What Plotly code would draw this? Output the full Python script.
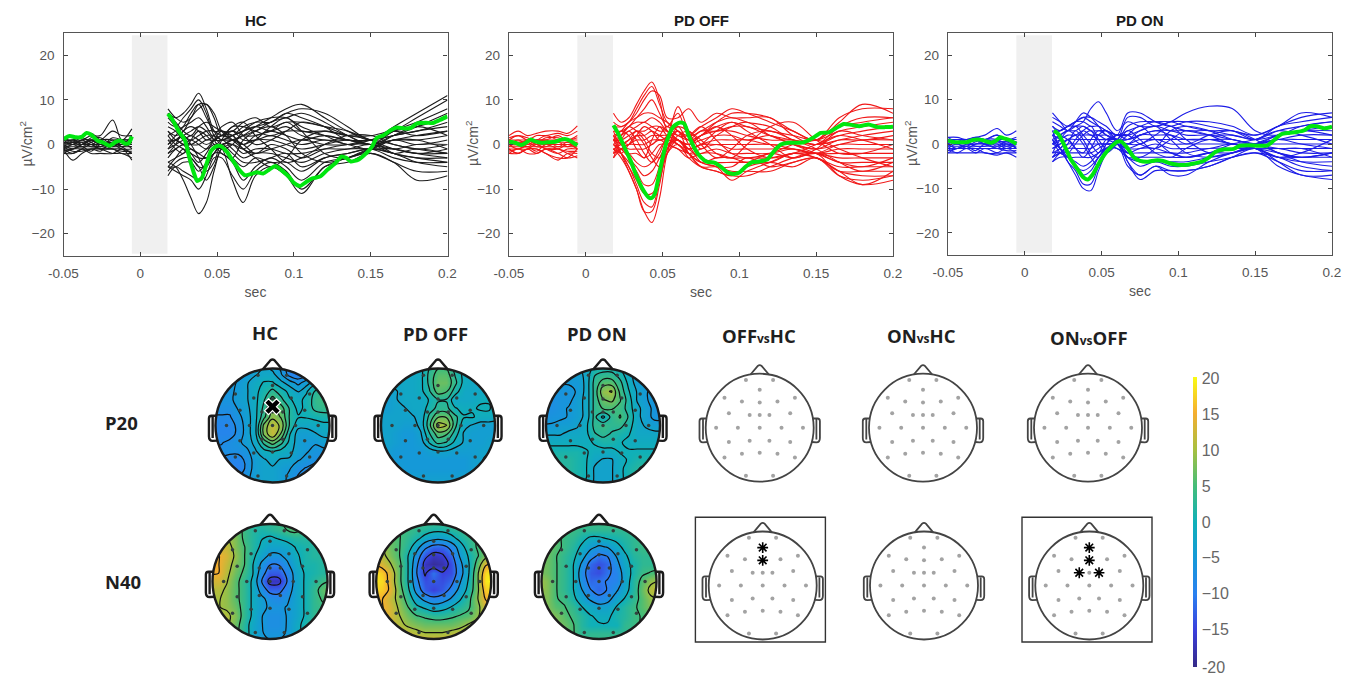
import plotly.graph_objects as go

W, H = 1363, 674

# ---------- top panels: data ----------
PRE_T = [-0.05, -0.044, -0.038, -0.032, -0.026, -0.018, -0.012, -0.0055]
POST_T = [.018, .023, .028, .033, .038, .043, .048, .053, .06, .067, .075, .085, .095, .105, .12, .135, .15, .165, .18, .2]

HC_PRE = [
    [1, 1, 1, 2, 2, 5.5, 1, 3.5], [0, 1, 0, 1, 1, 3, 2, 2], [1, 0, 1, 1, 0, 1, 1, 1], [0, 0, 1, 0, 1, 1, 0, 2],
    [0, -1, 0, 1, 0, 0, 1, 1], [-1, 0, 0, 0, 0, 0, 0, 0], [-1, -1, 0, 0, -1, 0, -1, -1], [-1, -2, -1, 0, -1, -1, -1, -2],
    [-2, -1, -1, -1, -1, -1, -2, -2], [-1, -3.5, -2, -1, -1, -2, -2, -3], [-2, -2, -1, -2, -2, -2, -1, -3.5], [1, 1, 2, 2.5, 1, 0, 0, 1],
    [.5, .5, .5, 1, .5, .5, .5, .5], [-.5, -.5, -.5, -.5, -.5, -.5, -.5, -.5], [.5, 0, -.5, .5, 1, -.5, .5, -1], [-.5, .5, .5, -.5, -.5, .5, -.5, .5],
    [0, .5, 1.5, .5, -.5, 1.5, 1, 0], [-1.5, -1, -.5, -1.5, 0, -1, -1.5, -1.5], [1.5, .5, 0, 1.5, 1.5, 0, 0, -.5], [-.5, -1.5, -1.5, -1, -1.5, .5, -.5, -2],
]
OFF_PRE = [
    [2, 3, 2, 2.5, 3, 3, 2.5, 4.2], [1, 2, 1, 2, 2, 2.5, 2, 3], [1, 1, 1, 1, 1, 2, 1, 2], [0, 1, 0, 1, 1, 1, 1, 1],
    [0, 0, 1, 0, 0, 0, 0, 0], [0, -1, 0, 0, -1, -1, 0, -1], [-1, -1, -1, 0, -1, -2, -1, -1], [-1, -2, -1, -1, -2, -3.5, -2, -2],
    [-2, -1, -2, -2, -1, -2, -3, -2.5], [-1, -2, -1, -1, -2, -3, -3, -1], [1, 0, 1, 1, 2, 1, 1, 0], [-2, -2, -1, -2, -1, -1, -2, -3],
    [.5, .5, .5, 1, .5, .5, .5, .5], [-.5, -.5, -.5, -.5, -.5, -.5, -.5, -.5], [.5, 0, -.5, .5, 1, -.5, .5, -1], [-.5, .5, .5, -.5, -.5, .5, -.5, .5],
    [1.5, 2, 1.5, .5, 1.5, 1.5, 1, 1.5], [-1.5, -1, -.5, -1.5, 0, -1, -1.5, -1.5],
]
ON_PRE = [
    [1.5, 1.5, 1, 1.5, 2, 3.5, 2, 3], [1, 1, 1, 1, 1, 2, 1, 1.5], [1, 0, 1, 1, 0, 1, 1, 1], [0, 1, 0, 0, 1, 1, 0, 0],
    [0, 0, 0, 0, 0, 0, 0, 0], [-1, 0, -1, 0, 0, -1, 0, -1], [-1, -1, -1, -1, -1, -1, -1, -1], [-2, -1, -1, -1, -2, -2, -1, -2],
    [-2, -2, -2, -2, -2, -2.5, -2, -3], [-1, -2, -1, -2, -1, -2, -2, -2], [1, 1, 1, 1, 1, 2, 1, 1], [0, -1, 0, 1, 0, 0, -1, 0],
    [.5, .5, .5, 1, .5, .5, .5, .5], [-.5, -.5, -.5, -.5, -.5, -.5, -.5, -.5], [.5, 0, -.5, .5, 1, -.5, .5, -1], [-.5, .5, .5, -.5, -.5, .5, -.5, .5],
    [-1.5, -1, -.5, -1.5, 0, -1, -1.5, -1.5], [1.5, .5, 1, 1.5, 1, .5, .5, .5],
]

HC_POST = [
    [7, 6, 7, 9, 11.5, 8, 3, 1, 2, 3, 4, 5, 7, 8, 7, 4, 1, 3, 6, 10],
    [8, 6, 5, 6, 9, 9, 7, 3, 1, 2, 4, 6, 8, 9, 6, 3, 1, 4, 7, 11],
    [5, 4, 6, 8, 10, 7, 2, 0, 1, 2, 3, 5, 6, 7, 5, 2, 0, 3, 5, 8],
    [3, 2, 3, 6, 8, 9, 6, 2, 2, 4, 5, 5, 7, 6, 4, 1, 1, 2, 4, 7],
    [7, 5, 3, 2, 4, 5, 4, 3, 3, 5, 6, 4, 5, 5, 4, 2, 0, 2, 3, 5],
    [2, 3, 4, 5, 6, 4, 1, -1, 0, 3, 5, 6, 6, 4, 2, 0, 1, 3, 4, 6],
    [6, 4, 2, 1, 2, 3, 3, 2, 4, 4, 3, 2, 3, 3, 2, 1, 0, 1, 2, 3],
    [1, 1, 2, 3, 4, 3, 1, 1, 2, 3, 4, 3, 4, 2, 1, 1, 0, 1, 1, 2],
    [4, 3, 1, 0, 0, 1, 1, 2, 3, 2, 2, 3, 2, 1, 2, 1, 1, 2, 3, 4],
    [-1, 0, 1, 2, 1, 0, 1, 2, 3, 1, 1, 2, 1, 0, 1, 0, -1, 1, 0, 1],
    [0, 1, 0, 0, 1, 2, 2, 1, 1, 0, 1, 1, 0, -1, 0, 1, 0, -1, 0, 0],
    [-2, -1, 0, -1, -2, -1, 1, 2, 2, -1, -2, -1, 0, 1, 0, 0, 1, 0, -1, 0],
    [-3, -1, 0, 1, 0, -1, 0, 0, 1, 0, -2, 0, -1, -3, -1, 0, 0, -1, -2, -1],
    [-4, -3, -2, -1, -2, -3, -2, 0, 0, -2, -1, -1, -2, -2, -1, -1, 0, -2, -1, -2],
    [-5, -3, -1, -2, -3, -3, -1, 1, -1, -3, -2, -2, -3, -4, -2, -1, -1, -1, -2, -2],
    [-6, -4, -3, -3, -5, -5, -2, 0, -2, -4, -4, -3, -2, -5, -3, -2, -1, -2, -3, -3],
    [-5, -5, -4, -4, -6, -4, -1, -1, -3, -5, -3, -4, -4, -6, -3, -2, -1, -3, -4, -4],
    [-7, -5, -6, -7, -8, -5, -2, -2, -4, -8, -5, -3, -5, -8, -4, -3, -1, -2, -4, -5],
    [-5, -6, -7, -8, -10, -7, -3, -3, -7, -10, -6, -4, -6, -10, -5, -3, -2, -4, -6, -6],
    [-4, -5, -8, -12, -15.5, -13, -6, -1, -8, -13, -7, -5, -7, -11, -5, -4, -2, -4, -8, -7],
    [0, 2, 4, 7, 9, 6, 3, 3, 2, 0, 2, 3, 5, 3, 3, 2, 2, 3, 2, 3],
    [-2, 0, 3, 4, 3, 1, 2, 4, 5, 2, 0, 1, 3, 5, 4, 3, 1, -1, -2, -3],
    [1, -1, -2, 1, 3, 2, 0, -2, -3, 1, 3, 4, 2, -2, -4, -3, -1, 1, 1, -1],
    [3, 1, 0, -2, -4, -2, 1, 3, 1, -1, -3, -5, -3, 1, 3, 2, 1, -2, -3, -4],
    [-1, 1, 2, 0, -3, -6, -4, 1, 4, 5, 2, -1, -4, -3, 0, 2, 2, 0, -1, -2],
    [2, 0, -1, -3, -5, -8, -5, -1, 0, -1, 1, 4, 6, 3, -2, -3, -1, 2, 4, 2],
]

OFF_POST = [
    [7, 5, 6, 9, 12, 14, 10, 3, 1, 0, 2, 5, 7, 7, 6, 3, 1, 5, 9, 7],
    [5, 4, 5, 8, 11, 13, 9, 5, 3, 2, 4, 6, 8, 7, 5, 3, 1, 6, 8, 8],
    [4, 4, 5, 7, 10, 12, 11, 6, 6, 8, 5, 7, 6, 6, 6, 2, 0, 4, 6, 6],
    [3, 3, 4, 6, 8, 10, 7, 4, 7, 2, 3, 5, 6, 5, 4, 1, 1, 4, 5, 6],
    [2, 3, 5, 6, 7, 7, 6, 5, 3, 1, 2, 4, 5, 4, 3, 2, 1, 3, 4, 5],
    [1, 2, 4, 5, 5, 6, 5, 3, 2, 1, 3, 3, 4, 4, 2, 1, 0, 2, 3, 4],
    [0, 2, 3, 4, 5, 4, 3, 3, 1, 0, 2, 3, 3, 2, 1, 1, 0, 1, 2, 3],
    [1, 1, 2, 3, 3, 4, 4, 2, 1, 0, 1, 2, 2, 1, 2, 0, -1, 1, 1, 2],
    [-1, 0, 1, 2, 2, 3, 2, 1, 1, -1, 0, 1, 1, 1, 0, 0, -1, 0, 1, 1],
    [-2, -1, 0, 1, 1, 2, 2, 2, 0, -1, 0, 0, 0, 0, 0, -1, -2, 0, 0, 0],
    [-3, -1, 0, 0, 0, 1, 1, 1, 0, -2, -1, 0, -1, -1, -1, -1, -2, -1, -1, -1],
    [1, 0, -1, -1, -1, 0, 1, 0, -1, -2, -2, -1, -2, -2, -2, -1, -2, -2, -2, -2],
    [2, 0, -2, -2, -3, -2, 0, 0, -1, -3, -2, -2, -3, -3, -3, -2, -2, -3, -3, -3],
    [-2, -1, -2, -4, -5, -4, -1, 1, 0, -2, -4, -3, -3, -4, -2, -3, -2, -4, -4, -4],
    [0, -1, -3, -5, -7, -6, -3, 0, 1, -1, -3, -4, -4, -4, -4, -2, -3, -5, -5, -5],
    [-1, -2, -4, -6, -9, -9, -5, -1, 1, -2, -4, -5, -5, -3, -5, -4, -3, -6, -6, -6],
    [1, -2, -5, -8, -11, -11, -8, -2, 0, -3, -5, -5, -6, -6, -6, -4, -3, -6, -7, -7],
    [0, -2, -5, -9, -13, -14, -8, -2, 1, -2, -5, -6, -7, -5, -4, -5, -3, -7, -8, -7],
    [2, -2, -6, -10, -15, -15, -9, -1, 3, -2, -5, -6, -7, -7, -5, -3, -2, -7, -9, -8],
    [-1, -3, -6, -10, -15, -17.5, -12, -2, 4, 0, -4, -5, -8, -6, -4, -2, -3, -6, -9, -6],
    [4, 1, 0, 2, 4, 3, 1, 2, 8.5, 3, -1, 2, 4, 5, 2, 0, -2, -4, -5, -3],
    [-2, 2, 4, 3, 1, -2, -3, 1, 3, 1, 2, 4, 2, -1, -3, -2, 0, 2, 1, -1],
    [3, 0, 1, 3, 2, 0, 2, 4, 2, 2, 4, 1, -2, -3, -2, 0, 1, -1, -3, -5],
    [-3, 1, 3, 1, -2, -4, -2, 2, 4, 3, 1, -2, -3, 0, 4, 5, 1, -2, -2, 0],
    [1, 3, 2, -1, -3, 1, 4, 3, 1, -1, 0, 3, 5, 3, 0, -3, -1, 3, 2, 1],
    [-1, -2, 0, 2, 0, -3, -5, -1, 2, 3, 0, -3, -1, 2, 3, 1, -1, -4, -6, -4],
]

ON_POST = [
    [7, 5, 3, 4, 5, 8, 9.5, 7, 3, 5, 4, 4, 5, 7, 8.5, 8, 3, 2, 4, 5],
    [6, 5, 4, 5, 6, 6, 5, 4, 2, 7, 7, 5, 4, 5, 5, 4, 2, 4, 7, 6],
    [5, 4, 3, 5, 7, 6, 4, 2, 1, 6, 6, 4, 5, 5, 4, 3, 2, 4, 6, 7],
    [4, 3, 4, 5, 6, 5, 4, 3, 1, 4, 5, 5, 5, 4, 3, 3, 1, 4, 5, 6],
    [3, 3, 4, 5, 5, 4, 4, 3, 2, 3, 4, 5, 4, 3, 3, 2, 1, 3, 4, 5],
    [2, 3, 4, 4, 4, 3, 3, 3, 2, 2, 3, 4, 3, 3, 2, 2, 1, 2, 3, 4],
    [1, 2, 3, 3, 4, 3, 2, 2, 1, 1, 2, 3, 3, 2, 2, 1, 0, 2, 3, 3],
    [0, 1, 2, 2, 3, 2, 2, 1, 1, 0, 2, 2, 2, 1, 1, 1, 0, 1, 2, 2],
    [-1, 0, 1, 2, 2, 2, 1, 1, 1, 0, 1, 1, 1, 1, 1, 0, 0, 1, 1, 1],
    [-2, -1, 1, 1, 1, 1, 1, 1, 0, -1, 0, 1, 0, 0, 0, 0, 0, 0, 0, 0],
    [-3, -1, 0, 0, 0, 0, 0, 0, 0, -1, -1, 0, -1, -1, -1, 0, -1, -1, -1, -1],
    [-4, -2, -1, -1, -1, -1, 0, 0, 0, -2, -1, -1, -2, -2, -1, -1, -1, -1, -2, -2],
    [-3, -2, -2, -2, -2, -2, -1, 0, -1, -2, -2, -2, -2, -3, -2, -1, -1, -2, -3, -2],
    [-2, -2, -3, -3, -3, -3, -2, -1, -1, -3, -3, -3, -3, -3, -2, -2, -1, -3, -3, -3],
    [-4, -3, -3, -4, -5, -4, -2, -1, 0, -3, -4, -4, -4, -4, -3, -2, -1, -3, -4, -4],
    [1, -2, -3, -5, -6, -5, -3, -1, 0, -3, -5, -4, -5, -5, -4, -3, -2, -3, -5, -6],
    [2, -1, -3, -5, -7, -6, -3, -1, 0, -5, -7, -5, -6, -6, -5, -3, -2, -4, -6, -6],
    [0, -1, -4, -6, -9, -9, -5, -2, 1, -4, -8, -6, -6, -6, -5, -3, -1, -4, -7, -7],
    [3, -1, -4, -7, -10, -10.5, -6, -2, 1, -4, -7, -5, -7, -7, -4, -2, -1, -5, -7, -8],
    [0, 2, 3, 2, 0, -3, -5, 0, 2, 1, 2, 3, 2, 0, 2, 3, 1, -2, -3, -2],
    [2, 1, -1, 1, 3, 4, 1, -1, 0, 2, 4, 1, -2, -3, -2, 0, 1, 3, 2, 0],
    [-2, 1, 3, 4, 2, 0, -2, 1, 1, -2, -3, -1, 3, 4, 3, 1, 0, -2, -4, -5],
    [-1, 0, 1, -1, -3, -1, 2, 3, 1, 0, 0, 2, 4, 1, -2, -1, 0, 1, 0, -1],
    [1, -1, -2, 0, 2, 3, 0, -2, 0, 3, 1, -2, -3, -1, 1, 0, -1, -3, -2, 1],
    [4, 2, 1, -1, -2, 1, 3, 2, 1, 1, 3, 4, 1, -2, -3, -2, 0, 2, 3, 2],
    [-3, -2, 0, 3, 1, -2, -3, 0, 2, 2, 0, -1, 1, 3, 2, 0, 0, -1, -1, -3],
]

HC_MEAN_T = [-.05, -.046, -.042, -.038, -.035, -.032, -.028, -.024, -.02, -.016, -.013, -.01, -.0075, -.0055, None,
             .018, .021, .025, .029, .032, .035, .037, .04, .043, .046, .049, .052, .056, .06, .064, .068, .072, .076, .08, .084, .088, .092, .097, .1, .104, .108, .112, .117, .122, .127, .131, .134, .137, .142, .147, .151, .154, .158, .163, .167, .172, .176, .18, .186, .19, .195, .2]
HC_MEAN = [1.2, 1.9, 1.6, 1.7, 2.6, 2.2, .9, .4, -.3, .6, .9, .2, .3, 1.8, None,
           6.9, 5.5, 3, 1, -3, -6.5, -8.2, -7.5, -4.5, -1.5, -.5, -.3, -1.5, -3.5, -5.5, -6.9, -6.6, -6.2, -6.5, -5.6, -4.8, -5.8, -7.3, -8.6, -9.3, -8.4, -7.6, -7.2, -5.6, -4.2, -2.7, -3, -3.8, -3.4, -2, -.4, 1.5, 2, 3.2, 3.8, 3.6, 3.7, 4.7, 4.9, 4.8, 5.5, 6.3]
OFF_MEAN_T = [-.05, -.046, -.042, -.039, -.036, -.033, -.029, -.025, -.02, -.016, -.013, -.01, -.0055, None,
              .018, .021, .025, .029, .033, .037, .041, .043, .045, .047, .05, .053, .057, .061, .064, .067, .071, .075, .079, .084, .088, .092, .096, .1, .104, .108, .113, .118, .123, .127, .132, .137, .142, .148, .153, .158, .163, .168, .173, .178, .184, .19, .195, .2]
OFF_MEAN = [.7, .4, -.1, .4, 1.1, .7, .4, .5, .6, 1.1, 1.2, .8, -.2, None,
            4.3, 2.5, -.5, -3.5, -7, -10, -11.9, -12, -11, -8, -3, 1, 4, 4.9, 4.7, 2, -1, -2.9, -3.9, -4.1, -5, -6.2, -6.6, -6.3, -5, -4, -3.8, -3.4, -1.3, 0, .4, .4, .5, 1.5, 2.6, 2.7, 3.7, 4.6, 4.4, 4.1, 4.5, 3.9, 3.9, 4]
ON_MEAN_T = [-.05, -.046, -.042, -.038, -.034, -.03, -.026, -.022, -.019, -.016, -.013, -.01, -.0055, None,
             .019, .022, .026, .03, .034, .038, .041, .044, .048, .052, .056, .06, .063, .067, .071, .075, .08, .085, .09, .095, .1, .105, .11, .115, .12, .124, .13, .136, .14, .146, .152, .158, .162, .167, .172, .177, .182, .186, .19, .195, .2]
ON_MEAN = [.8, .4, .4, .4, .9, 1, .7, .3, .7, 1.5, 1.2, .9, 0, None,
           3, 2.2, -.5, -3.5, -5.5, -7.5, -8, -7, -4.5, -2.3, -.7, .5, .5, -1, -3, -3.8, -4, -3.7, -3.8, -4.4, -4.7, -4.7, -4.4, -4, -3, -1.8, -1.2, -1.1, -.4, -.3, -.4, -.3, .8, 2.2, 2.5, 2.7, 3.1, 4, 4, 3.5, 3.9]

PANEL_TITLES = ["HC", "PD OFF", "PD ON"]
PANEL_COLORS = ["#1c1c1c", "#f01818", "#1c1ce6"]
X_TICKS = [-0.05, 0, 0.05, 0.1, 0.15, 0.2]
X_TICK_TEXT = ["-0.05", "0", "0.05", "0.1", "0.15", "0.2"]
Y_TICKS = [-20, -10, 0, 10, 20]

# ---------- scalp maps: data (rows y = 1.05 ... -1.05, columns x = -1.05 ... 1.05) ----------
GRID = [-1.05, -.9, -.75, -.6, -.45, -.3, -.15, 0, .15, .3, .45, .6, .75, .9, 1.05]

HC_P20 = [
    [-6, -6, -6, -6, -5, -4, -3, -4, -6, -9, -10, -8, -5, -4, -4],
    [-6, -6, -6, -6, -5, -3, -2, -2, -5, -9, -10, -8, -4, -3, -3],
    [-6, -6, -6, -5, -3, -1.5, 0, 0, -2, -4, -6, -4, -1, 0, 0],
    [-6, -6, -6, -4.5, -3, -1, 1, 3, 1, -1, -3, -.5, 2.5, 3.5, 3.5],
    [-6, -6, -6, -4, -3, -1, 2, 6, 3, 0, -1, .5, 3.5, 4.5, 4.5],
    [-7, -7, -7, -5, -3.5, -1, 3, 8, 6, 2, -1, .5, 3, 3.5, 3.5],
    [-8, -8, -8, -6, -4, -1, 4, 9, 7, 2, 0, 0, .5, 1, 1],
    [-9, -9, -9, -7, -4, -1, 8, 12, 9, 2, -2, -2, -1.5, -1, -1],
    [-9, -9, -9, -7, -4, -1, 8, 12, 7, 0, -4, -4, -3, -2, -2],
    [-8, -8, -7, -6, -4, -2, 3, 6, 3, -1, -4, -5, -5, -4, -4],
    [-7, -7, -7, -7, -6, -3, -1, 0, -1, -2, -4, -5, -6, -6, -6],
    [-7, -8, -9, -9, -7, -4, -3, -2, -3, -3, -5, -6, -7, -8, -8],
    [-7, -8, -9, -10, -7, -4, -3, -3, -4, -5, -7, -8, -9, -9, -9],
    [-7, -7, -8, -8, -6, -4, -3, -3, -4, -6, -8, -9, -9, -9, -9],
    [-7, -7, -7, -7, -6, -4, -3, -3, -4, -6, -8, -8, -8, -8, -8],
]
OFF_P20 = [
    [-2, -2, -2, -2, -2, -1, 2, 4, 4, 1, -1, -2, -2, -2, -2],
    [-2, -2, -2, -2, -2, -1, 3, 6, 6, 2, -1, -2, -2, -2, -2],
    [-3, -3, -2, -2, -2, -1, 3, 7, 7, 3, -1, -2, -2, -2, -3],
    [-3, -3, -3, -2, -2, -1, 2, 6, 5, 1, -2, -2, -2, -2, -3],
    [-4, -4, -3, -2, -2, -2, 0, 2, 2, -2, -2, -2, -.5, -.5, -2],
    [-4, -4, -3, -3, -2, -2, 1, 3, 3, 0, -1, -.5, 0, 0, -2],
    [-3, -3, -3, -3, -3, -2, 3, 7, 7, 3, 0, 0, -1, -1, -2],
    [-3, -3, -3, -4, -4, -2, 4, 11, 10, 3, -2, -3, -4, -4, -4],
    [-3, -3, -4, -5, -5, -3, 2, 6, 5, 1, -3, -4, -4, -4, -4],
    [-3, -3, -4, -5, -5, -4, 0, 3, 2, -1, -3, -4, -4, -3, -3],
    [-3, -4, -5, -5, -5, -5, -4, -3, -3, -4, -4, -4, -3, -3, -3],
    [-3, -4, -5, -5, -5, -5, -5, -5, -5, -5, -5, -4, -3, -2, -2],
    [-3, -3, -4, -5, -5, -5, -5, -5, -5, -5, -5, -4, -3, -2, -2],
    [-3, -3, -3, -3, -4, -4, -4, -4, -4, -4, -3, -3, -2, -2, -2],
    [-3, -3, -3, -3, -3, -3, -3, -3, -3, -3, -3, -3, -3, -3, -3],
]
ON_P20 = [
    [-3, -3, -3, -3, -3, -2, 0, 0, 0, -1, -3, -4, -4, -4, -4],
    [-4, -4, -4, -4, -4, -2, 2, 3, 3, 1, -2, -4, -5, -5, -5],
    [-5, -5, -5, -5, -5, -2, 3, 6, 6, 3, -1, -4, -5, -5, -5],
    [-6, -6, -6, -6, -5, -2, 3, 9, 10, 4, 0, -3, -5, -6, -6],
    [-7, -7, -6, -6, -4, -2, 3, 7, 8, 5, 1, -3, -5, -6, -7],
    [-7, -7, -6, -5, -4, -2, 3, 5, 5, 4, 1, -2, -4, -6, -7],
    [-7, -6, -6, -5, -4, -2, 3, -1, 3, 5, 2, -2, -4, -6, -6],
    [-5, -5, -4, -4, -3, -1, 3, 4, 3, 3, 1, -2, -3, -4, -4],
    [-3, -3, -3, -2, -2, -1, 2, 3, 2, 1, 0, -2, -2, -2, -2],
    [-1, -1, -1, -1, -1, -1, 0, 1, 1, 0, -1, -1, -1, -1, -1],
    [1, 1, 1, 1, 1, 0, -1, -1, -1, 0, 0, 0, 0, 0, 0],
    [2, 2, 2, 2, 1, 0, -2, -3, -3, -1, 0, 1, 1, 1, 1],
    [2, 2, 2, 2, 1, 0, -3, -3, -3, -1, 1, 2, 3, 3, 3],
    [2, 2, 2, 2, 1, 0, -3, -3, -3, -1, 1, 2, 3, 3, 3],
    [2, 2, 2, 2, 1, -1, -3, -3, -3, -1, 1, 1, 2, 2, 2],
]
HC_N40 = [
    [6, 8, 8, 6, 4, 2, 3, 3, 4, 6, 7, 6, 3, 3, 3],
    [9, 9, 9, 7, 4, 2, 1, 2, 3, 5, 6, 4, 3, 3, 3],
    [11, 11, 10, 8, 4, 2, 0, -1, 0, 1, 2, 2, 2, 2, 2],
    [13, 13, 12, 8, 5, 2, -1, -3, -3, -2, 0, 1, 2, 2, 2],
    [15, 15, 13, 9, 5, 1, -3, -6, -6, -4, -1, 1, 2, 2, 2],
    [16, 15, 12, 8, 5, 0, -6, -10, -10, -6, -2, 1, 1, 2, 2],
    [15, 15, 11, 7, 4, 0, -8, -13, -13, -9, -3, 0, 1, 2, 2],
    [13, 13, 10, 6, 3, -1, -10, -17, -17, -10, -3, 0, 2, 4, 5],
    [11, 11, 9, 6, 3, -1, -7, -12, -12, -8, -3, 0, 3, 6, 8],
    [10, 10, 9, 6, 3, -1, -4, -7, -8, -6, -3, 0, 3, 5, 7],
    [10, 10, 9, 7, 3, -1, -4, -6, -6, -5, -3, 0, 3, 4, 5],
    [10, 11, 11, 8, 3, -1, -5, -7, -7, -5, -3, 0, 3, 4, 4],
    [10, 11, 10, 7, 2, -2, -5, -7, -7, -5, -2, 1, 3, 3, 3],
    [9, 9, 8, 6, 2, -2, -5, -6, -6, -5, -2, 1, 2, 2, 2],
    [8, 8, 7, 5, 2, -2, -4, -5, -5, -4, -2, 1, 2, 2, 2],
]
OFF_N40 = [
    [6, 6, 6, 5, 5, 4, 4, 4, 4, 4, 5, 5, 6, 6, 6],
    [7, 7, 6, 5, 4, 3, 2, 1, 1, 2, 3, 4, 5, 6, 6],
    [9, 8, 7, 5, 3, 1, -2, -4, -4, -2, 1, 3, 5, 7, 8],
    [11, 10, 7, 5, 2, -3, -9, -12, -12, -9, -3, 2, 5, 7, 9],
    [13, 11, 8, 5, 0, -7, -14, -17, -16, -12, -5, 0, 4, 8, 10],
    [15, 13, 10, 6, 0, -9, -17, -19, -18, -14, -7, -1, 6, 14, 16],
    [19, 17, 13, 6, 0, -10, -16, -11, -15, -14, -8, -1, 8, 18, 20],
    [19, 18, 13, 6, 0, -9, -14, -13, -14, -12, -6, 0, 8, 19, 20],
    [18, 17, 14, 7, 1, -7, -13, -15, -13, -9, -4, 1, 8, 17, 19],
    [15, 15, 12, 8, 3, -3, -7, -9, -8, -5, -1, 3, 9, 15, 16],
    [15, 15, 13, 9, 5, 1, -1, -3, -2, 0, 2, 4, 8, 13, 15],
    [15, 15, 13, 10, 7, 5, 4, 3, 3, 4, 5, 6, 9, 12, 14],
    [15, 15, 13, 11, 9, 8, 7, 7, 7, 7, 8, 10, 11, 12, 13],
    [15, 15, 14, 13, 12, 11, 10, 10, 10, 11, 12, 13, 13, 13, 13],
    [15, 15, 15, 14, 14, 14, 14, 14, 14, 14, 14, 14, 14, 14, 14],
]
ON_N40 = [
    [5, 5, 5, 5, 5, 5, 4, 4, 5, 5, 5, 5, 5, 5, 5],
    [7, 7, 6, 5, 4, 3, 3, 3, 3, 3, 3, 4, 4, 5, 5],
    [7, 7, 6, 4, 3, 1, -1, -1, 0, 1, 2, 3, 4, 4, 4],
    [7, 7, 6, 4, 2, -1, -4, -6, -5, -2, 1, 3, 4, 4, 4],
    [8, 7, 5, 3, 1, -3, -8, -11, -10, -5, -1, 2, 3, 3, 3],
    [8, 7, 5, 3, 0, -6, -12, -14, -12, -7, -2, 1, 3, 3, 3],
    [8, 7, 5, 3, 0, -8, -13, -14, -11, -9, -3, 1, 4, 5, 6],
    [10, 8, 5, 3, 0, -7, -12, -11, -10, -9, -3, 2, 6, 9, 10],
    [10, 8, 5, 3, 0, -5, -10, -12, -10, -6, -2, 2, 7, 11, 12],
    [8, 8, 5, 4, 1, -3, -6, -9, -7, -3, 0, 3, 6, 9, 10],
    [8, 8, 6, 5, 3, 0, -2, -3, -3, 0, 2, 4, 6, 8, 8],
    [9, 9, 8, 6, 4, 2, 0, -1, -1, 1, 2, 4, 5, 6, 7],
    [9, 9, 8, 7, 5, 2, 0, 0, 0, 0, 3, 4, 5, 5, 5],
    [8, 8, 8, 7, 5, 3, 3, 3, 3, 3, 3, 4, 4, 4, 4],
    [7, 7, 7, 6, 5, 4, 4, 4, 4, 4, 4, 4, 4, 4, 4],
]

ELEC_X = [-.255, .248, 0, -.652, -.329, 0, .329, .652, -.571, -.186, 0, .18, .565, -.807, -.404, 0, .404, .801,
          -.571, -.186, .18, .565, -.652, -.329, 0, .329, .652, -.255, .248]
ELEC_Y = [.882, .882, .702, .553, .484, .466, .484, .553, .267, .236, .236, .236, .267, 0, 0, 0, 0, 0,
          -.267, -.242, -.242, -.267, -.553, -.484, -.466, -.484, -.553, -.888, -.888]
STARS_OFF_HC = [2, 5]
STARS_ON_OFF = [2, 5, 9, 11]

PARULA = [[0, "#352a87"], [.125, "#3b3fdc"], [.25, "#2a80f0"], [.375, "#1599d8"], [.5, "#10b0b8"],
          [.625, "#45bd78"], [.75, "#a8c040"], [.875, "#f5ae30"], [1, "#f9fb15"]]
CBAR_TICKS = [-15, -10, -5, 0, 5, 10, 15, 20]
CBAR_BOTTOM_LABEL = "-20"
P20_STEP = 2.5
N40_STEP = 5

# centre x, centre y, radius (px), field, contour step, stars, boxed
MAPS = [
    (272.5, 425.5, 57, HC_P20, P20_STEP, None, False), (438, 425.5, 57, OFF_P20, P20_STEP, None, False), (603, 425.5, 57, ON_P20, P20_STEP, None, False),
    (759.7, 427.7, 54, None, 0, None, False), (923, 427.7, 54, None, 0, None, False), (1088, 427.7, 54, None, 0, None, False),
    (270, 581.5, 57.5, HC_N40, N40_STEP, None, False), (433.7, 581.5, 57.5, OFF_N40, N40_STEP, None, False), (599, 581.5, 57.5, ON_N40, N40_STEP, None, False),
    (762.7, 585.5, 54, None, 0, STARS_OFF_HC, True), (924, 585.5, 54, None, 0, None, False), (1089.3, 585.5, 54, None, 0, STARS_ON_OFF, True),
]

fig = go.Figure()
layout = {}
shapes = []
annots = []


def px(v):
    return v / W


def py(v):
    return 1 - v / H


# ---------- top line panels ----------
PANEL_X = [(63.5, 447.5), (509, 893), (948, 1332)]
PANEL_Y = [(33, 256), (33, 256), (33, 255)]
PRE = [HC_PRE, OFF_PRE, ON_PRE]
POST = [HC_POST, OFF_POST, ON_POST]
MEAN = [(HC_MEAN_T, HC_MEAN), (OFF_MEAN_T, OFF_MEAN), (ON_MEAN_T, ON_MEAN)]
tickfont = dict(family="Liberation Sans", size=13.5, color="#555555")
titlefont = dict(family="Liberation Sans", size=14, color="#555555")
for i in range(3):
    n = i + 1
    xa, ya = f"x{n}", f"y{n}"
    layout[f"xaxis{n}"] = dict(domain=[px(PANEL_X[i][0]), px(PANEL_X[i][1])], anchor=ya, range=[-0.05, 0.2],
                               tickvals=X_TICKS, ticktext=X_TICK_TEXT, ticks="inside", ticklen=4, tickcolor="#444",
                               showline=True, linecolor="#555", linewidth=1.3, mirror="allticks", showgrid=False,
                               zeroline=False, tickfont=tickfont, ticklabelstandoff=5,
                               title=dict(text="sec", font=titlefont, standoff=6))
    layout[f"yaxis{n}"] = dict(domain=[py(PANEL_Y[i][1]), py(PANEL_Y[i][0])], anchor=xa, range=[-25, 25],
                               tickvals=Y_TICKS, ticks="inside", ticklen=4, tickcolor="#444",
                               showline=True, linecolor="#555", linewidth=1.3, mirror="allticks", showgrid=False,
                               zeroline=False, tickfont=tickfont, ticklabelstandoff=5)
    annots.append(dict(text="µV/cm<sup>2</sup>", xref="paper", yref="paper", showarrow=False, textangle=-90,
                       x=px(PANEL_X[i][0] - 37), y=py(144), xanchor="center", yanchor="middle", font=titlefont))
    shapes.append(dict(type="rect", xref=xa, yref=ya, x0=-0.0055, x1=0.0177, y0=-24.5, y1=24.5,
                       fillcolor="#f0f0f0", line_width=0, layer="below"))
    for row in PRE[i]:
        fig.add_trace(go.Scatter(x=PRE_T, y=row, xaxis=xa, yaxis=ya, mode="lines", hoverinfo="skip", showlegend=False,
                                 line=dict(color=PANEL_COLORS[i], width=1.1, shape="spline")))
    for row in POST[i]:
        fig.add_trace(go.Scatter(x=POST_T, y=row, xaxis=xa, yaxis=ya, mode="lines", hoverinfo="skip", showlegend=False,
                                 line=dict(color=PANEL_COLORS[i], width=1.1, shape="spline")))
    fig.add_trace(go.Scatter(x=MEAN[i][0], y=MEAN[i][1], xaxis=xa, yaxis=ya, mode="lines", showlegend=False, hoverinfo="skip",
                             line=dict(color="#00e60f", width=4, shape="spline", smoothing=0.6)))
    annots.append(dict(text=f"<b>{PANEL_TITLES[i]}</b>", xref="paper", yref="paper", showarrow=False,
                       x=px(sum(PANEL_X[i]) / 2), y=py(20), xanchor="center", yanchor="middle",
                       font=dict(family="Liberation Sans", size=15, color="#1a1a1a")))

# ---------- scalp maps ----------
K = 0.5523


def circle_path(r):
    c = K * r
    return (f"M {r} 0 C {r} {c} {c} {r} 0 {r} C {-c} {r} {-r} {c} {-r} 0 "
            f"C {-r} {-c} {-c} {-r} 0 {-r} C {c} {-r} {r} {-c} {r} 0 Z")


NOSE = "M -0.17 0.985 L -0.035 1.145 Q 0 1.175 0.035 1.145 L 0.17 0.985"
EAR_L = "M -0.985 0.17 L -1.07 0.17 Q -1.115 0.17 -1.115 0.12 L -1.115 -0.19 Q -1.115 -0.27 -1.05 -0.27 L -0.965 -0.265 M -1.05 0.15 L -1.05 -0.22"
EAR_R = "M 0.985 0.17 L 1.07 0.17 Q 1.115 0.17 1.115 0.12 L 1.115 -0.19 Q 1.115 -0.27 1.05 -0.27 L 0.965 -0.265 M 1.05 0.15 L 1.05 -0.22"

for j, (cx, cy, r, field, step, stars, boxed) in enumerate(MAPS):
    n = j + 4
    xa, ya = f"x{n}", f"y{n}"
    span = 1.25
    layout[f"xaxis{n}"] = dict(domain=[px(cx - span * r), px(cx + span * r)], anchor=ya, range=[-span, span], visible=False)
    layout[f"yaxis{n}"] = dict(domain=[py(cy + span * r), py(cy - span * r)], anchor=xa, range=[-span, span], visible=False)
    if field is not None:
        fig.add_trace(go.Contour(x=GRID, y=GRID, z=field[::-1], xaxis=xa, yaxis=ya, coloraxis="coloraxis", autocontour=False,
                                 contours=dict(coloring="heatmap", start=-20.25, end=20.25, size=step),
                                 line=dict(color="#111111", width=1.2, smoothing=1.0), hoverinfo="skip"))
        shapes.append(dict(type="path", xref=xa, yref=ya, layer="above", fillcolor="white", line_width=0, fillrule="evenodd",
                           path="M -1.08 -1.08 L 1.08 -1.08 L 1.08 1.08 L -1.08 1.08 Z " + circle_path(1.0)))
    colour = "#1c1c1c" if field is not None else "#444444"
    lw = 2.4 if field is not None else 1.8
    for path in (circle_path(1.0), NOSE, EAR_L, EAR_R):
        shapes.append(dict(type="path", xref=xa, yref=ya, layer="above", path=path, line=dict(color=colour, width=lw)))
    stars_idx = stars or []
    ex = [x for k, x in enumerate(ELEC_X) if k not in stars_idx]
    ey = [y for k, y in enumerate(ELEC_Y) if k not in stars_idx]
    fig.add_trace(go.Scatter(x=ex, y=ey, xaxis=xa, yaxis=ya, mode="markers", hoverinfo="skip", showlegend=False,
                             marker=dict(size=3.5 if field is not None else 4,
                                         color="#33413f" if field is not None else "#a3a3a3")))
    if stars_idx:
        fig.add_trace(go.Scatter(x=[ELEC_X[k] for k in stars_idx], y=[ELEC_Y[k] for k in stars_idx], xaxis=xa, yaxis=ya,
                                 mode="markers", hoverinfo="skip", showlegend=False,
                                 marker=dict(symbol="asterisk-open", size=9, color="black", line=dict(color="black", width=1.6))))
    if boxed:
        shapes.append(dict(type="rect", xref="paper", yref="paper", x0=px(cx - 67.3), x1=px(cx + 62.7),
                           y0=py(642), y1=py(517.3), line=dict(color="#333333", width=1.4), layer="above"))

# peak electrode marker on the HC P20 map
fig.add_trace(go.Scatter(x=[0], y=[.33], xaxis="x4", yaxis="y4", mode="markers", hoverinfo="skip", showlegend=False,
                         marker=dict(symbol="x", size=14, color="black", line=dict(color="white", width=1.2))))

COL_TITLES = [("HC", 265, 332), ("PD OFF", 436, 333), ("PD ON", 597, 333),
              ("OFF<span style='font-size:12px'>vs</span>HC", 759, 335),
              ("ON<span style='font-size:12px'>vs</span>HC", 921.7, 335),
              ("ON<span style='font-size:12px'>vs</span>OFF", 1089, 337)]
for text, x, y in COL_TITLES:
    annots.append(dict(text=f"<b>{text}</b>", xref="paper", yref="paper", showarrow=False, x=px(x), y=py(y),
                       xanchor="center", yanchor="middle", font=dict(family="Open Sans", size=18.5, color="#1f1f1f")))
for text, x, y in [("P20", 121.7, 422.7), ("N40", 123, 581.7)]:
    annots.append(dict(text=f"<b>{text}</b>", xref="paper", yref="paper", showarrow=False, x=px(x), y=py(y),
                       xanchor="center", yanchor="middle", font=dict(family="Open Sans", size=18.5, color="#1f1f1f")))
annots.append(dict(text=CBAR_BOTTOM_LABEL, xref="paper", yref="paper", showarrow=False, x=px(1201), y=py(667),
                   xanchor="left", yanchor="middle", xshift=0, borderpad=0,
                   font=dict(family="Liberation Sans", size=16, color="#666666")))

fig.update_layout(
    width=W, height=H, margin=dict(l=0, r=0, t=0, b=0, autoexpand=False), paper_bgcolor="white", plot_bgcolor="white",
    showlegend=False, shapes=shapes, annotations=annots,
    coloraxis=dict(cmin=-20.2, cmax=20.2, colorscale=PARULA,
                   colorbar=dict(x=px(1193), xanchor="left", y=py(522), yanchor="middle", lenmode="pixels", len=290,
                                 thicknessmode="pixels", thickness=4, xpad=0, ypad=0, outlinewidth=0,
                                 tickvals=CBAR_TICKS, ticks="outside", ticklen=2, tickcolor="white",
                                 tickfont=dict(family="Liberation Sans", size=16, color="#666666"))),
    **layout,
)
fig.write_html("out.html", config={"displayModeBar": False},
               post_script="document.body.style.margin='0';document.documentElement.style.overflow='hidden';")
